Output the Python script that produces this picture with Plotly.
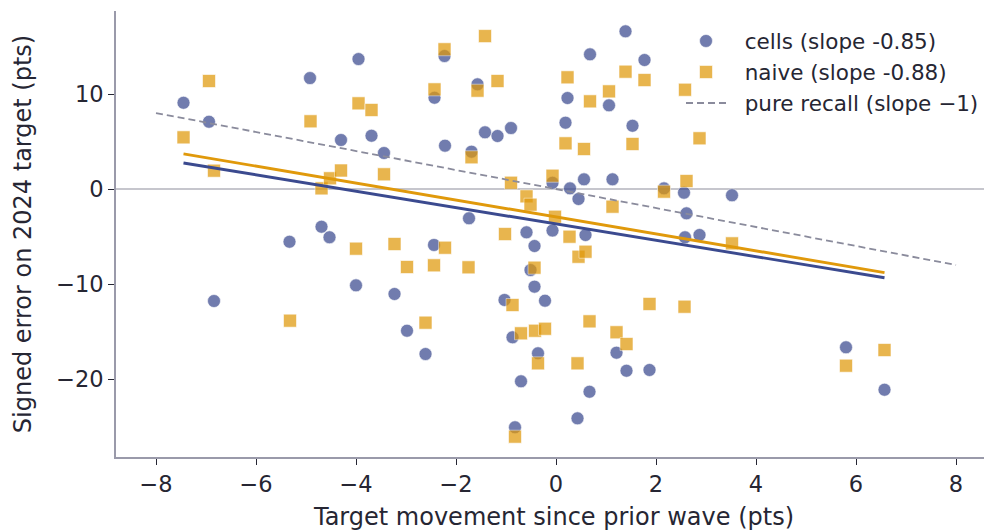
import numpy as np
import plotly.graph_objects as go

# ---- data ----
cells_x = [-7.45, -6.94, -6.84, -5.33, -4.92, -4.69, -4.53, -4.30, -4.00, -3.95,
           -3.69, -3.44, -3.23, -2.98, -2.61, -2.43, -2.44, -2.23, -2.22, -1.74,
           -1.69, -1.57, -1.42, -1.17, -1.03, -0.90, -0.87, -0.82, -0.70, -0.59,
           -0.51, -0.43, -0.43, -0.36, -0.22, -0.07, -0.07, 0.19, 0.23, 0.28,
           0.45, 0.56, 0.59, 0.43, 0.67, 0.68, 1.06, 1.13, 1.21, 1.39,
           1.41, 1.53, 1.77, 1.87, 2.16, 2.56, 2.61, 2.58, 2.87, 3.52,
           5.80, 6.57]
cells_y = [9.08, 7.08, -11.79, -5.55, 11.68, -3.97, -5.08, 5.16, -10.14, 13.68,
           5.61, 3.79, -11.05, -14.92, -17.37, 9.61, -5.89, 14.00, 4.56, -3.08,
           3.93, 11.02, 5.97, 5.58, -11.68, 6.42, -15.61, -25.08, -20.24, -4.56,
           -8.53, -10.28, -6.00, -17.29, -11.76, 0.66, -4.37, 6.98, 9.58, 0.07,
           -1.05, 1.02, -4.84, -24.14, -21.34, 14.18, 8.81, 1.02, -17.23, 16.60,
           -19.13, 6.66, 13.58, -19.05, 0.07, -0.39, -2.56, -5.08, -4.84, -0.66,
           -16.66, -21.13]

naive_x = [-7.45, -6.94, -6.84, -5.32, -4.91, -4.69, -4.52, -4.30, -4.00, -3.95,
           -3.69, -3.44, -3.23, -2.98, -2.61, -2.43, -2.44, -2.23, -2.22, -1.75,
           -1.69, -1.57, -1.42, -1.17, -1.02, -0.90, -0.87, -0.82, -0.70, -0.59,
           -0.51, -0.43, -0.42, -0.36, -0.22, -0.07, -0.02, 0.19, 0.23, 0.27,
           0.45, 0.43, 0.56, 0.59, 0.67, 0.68, 1.06, 1.13, 1.21, 1.39,
           1.41, 1.53, 1.77, 1.87, 2.16, 2.57, 2.58, 2.61, 2.87, 3.52,
           5.80, 6.57]
naive_y = [5.44, 11.37, 1.93, -13.86, 7.13, 0.07, 1.13, 1.95, -6.28, 9.02,
           8.32, 1.55, -5.79, -8.21, -14.07, 10.49, -8.03, 14.71, -6.18, -8.24,
           3.34, 10.35, 16.10, 11.37, -4.74, 0.66, -12.21, -26.07, -15.19, -0.77,
           -1.65, -8.28, -14.92, -18.35, -14.71, 1.40, -2.92, 4.81, 11.76, -5.02,
           -7.13, -18.35, 4.21, -6.60, -13.93, 9.23, 10.28, -1.86, -15.08, 12.35,
           -16.32, 4.74, 11.47, -12.10, -0.28, -12.39, 10.45, 0.84, 5.34, -5.72,
           -18.60, -16.95]

recall_x = [-8, 8]
recall_slope = -1

legend_labels = ["cells (slope -0.85)", "naive (slope -0.88)", "pure recall (slope \u22121)"]
x_ticks = [-8, -6, -4, -2, 0, 2, 4, 6, 8]
y_ticks = [-20, -10, 0, 10]

BLUE = "#3b4a8f"
ORANGE = "#e0990b"
GREY = "#8a8b9c"
TXT = "#262633"

fig = go.Figure()

# zero reference line
fig.add_trace(go.Scatter(x=[-8.8, 8.72], y=[0, 0], mode="lines",
                         line=dict(color="#8e8e9c", width=1.1),
                         showlegend=False, hoverinfo="skip"))

GAP = "\u00a0\u00a0"
fig.add_trace(go.Scatter(x=cells_x, y=cells_y, mode="markers", name=GAP + legend_labels[0],
                         marker=dict(symbol="circle", size=13, color=BLUE, opacity=0.72,
                                     line=dict(color="white", width=0.6)),
                         legend="legend"))
fig.add_trace(go.Scatter(x=naive_x, y=naive_y, mode="markers", name=GAP + legend_labels[1],
                         marker=dict(symbol="square", size=13, color=ORANGE, opacity=0.72,
                                     line=dict(color="white", width=0.6)),
                         legend="legend2"))

# fitted lines
for xs, ys, col in [(cells_x, cells_y, BLUE), (naive_x, naive_y, ORANGE)]:
    k, b = np.polyfit(xs, ys, 1)
    lx = np.array([min(xs), max(xs)])
    fig.add_trace(go.Scatter(x=lx, y=k * lx + b, mode="lines",
                             line=dict(color=col, width=2.9),
                             showlegend=False, hoverinfo="skip"))

rx = np.array(recall_x, dtype=float)
fig.add_trace(go.Scatter(x=rx, y=recall_slope * rx, mode="lines", name=GAP + legend_labels[2],
                         line=dict(color=GREY, width=1.8, dash="7px,4px"),
                         legend="legend3"))

# the page body adds an 8px offset; size the figure so the plot lands where wanted
OFF = 8
W, H = 992 - OFF, 531 - OFF
ml, mr, mt, mb = 116 - OFF, 0, 11 - OFF, 74
pw, ph = W - ml - mr, H - mt - mb

def lx_(px):  # window pixel -> paper x
    return (px - OFF - ml) / pw

def ly_(py):  # window pixel -> paper y
    return 1 - (py - OFF - mt) / ph

leg_common = dict(xanchor="left", yanchor="middle", bgcolor="rgba(0,0,0,0)",
                  font=dict(family="DejaVu Sans", size=21.5, color=TXT),
                  itemwidth=40, borderwidth=0)
fig.update_layout(
    width=W, height=H,
    margin=dict(l=ml, r=mr, t=mt, b=mb),
    plot_bgcolor="white", paper_bgcolor="white",
    font=dict(family="DejaVu Sans", color=TXT),
    legend=dict(x=lx_(681), y=ly_(41), **leg_common),
    legend2=dict(x=lx_(681), y=ly_(72), **leg_common),
    legend3=dict(x=lx_(681), y=ly_(103), **leg_common),
    xaxis=dict(range=[-8.8, 8.72], tickvals=x_ticks, ticks="outside", ticklen=6,
               tickwidth=1.3, tickcolor=TXT, showgrid=False, zeroline=False,
               showline=True, linecolor="#9a9aaa", linewidth=1.6, automargin=False,
               tickfont=dict(size=22.5, color=TXT),
               title=dict(text="Target movement since prior wave (pts)",
                          font=dict(size=24, color=TXT), standoff=18)),
    yaxis=dict(range=[-28.21, 18.74], tickvals=y_ticks, ticks="outside", ticklen=6,
               tickwidth=1.3, tickcolor=TXT, showgrid=False, zeroline=False,
               showline=True, linecolor="#9a9aaa", linewidth=1.6, automargin=False,
               tickfont=dict(size=22.5, color=TXT),
               title=dict(text="Signed error on 2024 target (pts)",
                          font=dict(size=24, color=TXT), standoff=18)),
)

fig.write_html("out.html")
